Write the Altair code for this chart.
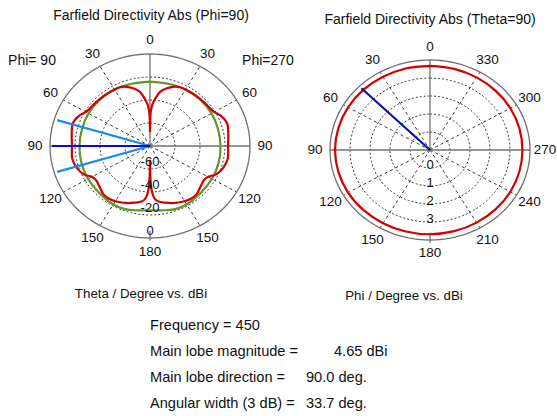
import altair as alt
import numpy as np
import pandas as pd

# ---------------- data ----------------
# Left plot: Phi=90 / Phi=270 cut, theta in degrees, value on the plot's radial dB scale
THETA_RED = [0, 0.5, 1, 2, 3, 5, 7, 10, 15, 20, 25, 30, 40, 50, 55, 60, 65, 72, 80, 90,
             100, 108, 115, 120, 125, 131, 138, 144, 151, 160, 166, 172, 175, 177, 178.5, 179.3, 180]
DB_RED = [-68.0, -57.6, -51.2, -47.2, -44.0, -40.0, -36.8, -32.0, -28.0, -25.2,
          -23.6, -23.2, -22.8, -22.4, -22.0, -20.8, -17.6, -15.2, -16.4, -17.6,
          -16.8, -18.4, -21.6, -26.4, -27.6, -26.4, -24.0, -23.6, -24.8, -27.2,
          -29.2, -31.2, -33.6, -37.6, -44.0, -52.0, -68.0]
THETA_GREEN = [0, 15, 30, 45, 60, 75, 90, 105, 120, 135, 150, 160, 170, 180]
DB_GREEN = [-24.0, -24.0, -23.2, -23.2, -23.2, -23.6, -23.6, -23.2, -22.8, -22.4, -21.2, -21.6, -23.2, -24.0]

# Right plot: Theta=90 cut, phi in degrees, dBi
PHI_RED = [0, 15, 30, 45, 60, 75, 90, 105, 120, 135, 150, 165, 180,
           195, 210, 225, 240, 255, 270, 285, 300, 315, 330, 345, 360]
DB_PHI = [3.68, 3.69, 3.70, 3.72, 3.73, 3.74, 3.75, 3.74, 3.73, 3.71, 3.70, 3.69, 3.68,
          3.67, 3.66, 3.65, 3.64, 3.63, 3.62, 3.63, 3.64, 3.65, 3.66, 3.67, 3.68]

# radial scales (value at centre, value at outer circle) and grid rings
LEFT_RANGE = (-80.0, 0.0)
LEFT_RINGS = [-60, -40, -20]
LEFT_RING_LABELS = [-60, -40, -20, 0]
RIGHT_RANGE = (-1.0, 4.0)
RIGHT_RINGS = [0, 1, 2, 3]
RIGHT_RING_LABELS = [0, 1, 2, 3]

# angular tick labels: (screen angle clockwise from top, text)
LEFT_ANGLE_POS = [0, 30, 60, 90, 120, 150, 180, 210, 240, 270, 300, 330]
LEFT_ANGLE_TXT = ["0", "30", "60", "90", "120", "150", "180", "150", "120", "90", "60", "30"]
RIGHT_ANGLE_POS = [0, 30, 60, 90, 120, 150, 180, 210, 240, 270, 300, 330]
RIGHT_ANGLE_TXT = ["0", "330", "300", "270", "240", "210", "180", "150", "120", "90", "60", "30"]

MAIN_DIR = 90.0
BEAM_WIDTH = 33.7
RIGHT_MARKER_PHI = 45.0

INFO_LABELS = ["Frequency = 450", "Main lobe magnitude =", "Main lobe direction =", "Angular width (3 dB) ="]
INFO_VALUES = ["", "4.65 dBi", "90.0 deg.", "33.7 deg."]

FONT = "Liberation Sans"
RED = "#d20000"
GREEN = "#64962a"
LBLUE = "#1e8ae6"
DBLUE = "#0808d0"
NAVY = "#0a10a8"
GRID = "#3a3a3a"
AXIS = "#707070"
TXT = "#111111"


def xy(t_deg, rn):
    t = np.radians(np.asarray(t_deg, float))
    rn = np.asarray(rn, float)
    return rn * np.sin(t), rn * np.cos(t)


def norm(v, rng):
    return (np.asarray(v, float) - rng[0]) / (rng[1] - rng[0])


def seg_layer(X, Y, t_list, r0, r1, **mk):
    u0, v0 = xy(t_list, np.full(len(t_list), r0))
    u1, v1 = xy(t_list, np.full(len(t_list), r1))
    return (alt.Chart(pd.DataFrame({"u0": u0, "w0": v0, "u": u1, "w": v1}))
            .mark_rule(**mk).encode(x=X("u0"), y=Y("w0"), x2="u", y2="w"))


def polar_panel(curves, rings, rng, ring_labels, ring_dy, ang_pos, ang_txt, rules, xdom, ydom, w, h, texts):
    xs = alt.Scale(domain=xdom, nice=False, zero=False)
    ys = alt.Scale(domain=ydom, nice=False, zero=False)
    X = lambda f: alt.X(f, type="quantitative", scale=xs, axis=None)
    Y = lambda f: alt.Y(f, type="quantitative", scale=ys, axis=None)
    layers = []

    # dashed rings
    tt = np.arange(0, 361, 3)
    rows = []
    for rv in rings:
        u, v = xy(tt, np.full(len(tt), norm(rv, rng)))
        for i in range(len(tt)):
            rows.append({"ring": str(rv), "i": i, "u": u[i], "w": v[i]})
    layers.append(alt.Chart(pd.DataFrame(rows)).mark_line(color=GRID, strokeWidth=1, strokeDash=[2, 2])
                  .encode(x=X("u"), y=Y("w"), detail="ring:N", order="i:Q"))
    # dashed spokes
    layers.append(seg_layer(X, Y, [30, 60, 120, 150, 210, 240, 300, 330], 0.0, 1.0,
                            color=GRID, strokeWidth=1, strokeDash=[3, 3]))
    # solid axes (upper and horizontal), short tick at the bottom
    layers.append(seg_layer(X, Y, [0, 90, 270], 0.0, 1.0, color=AXIS, strokeWidth=1.3))
    layers.append(seg_layer(X, Y, [180], 0.92, 1.03, color=AXIS, strokeWidth=1.3))
    # outer circle
    u, v = xy(tt, np.ones(len(tt)))
    layers.append(alt.Chart(pd.DataFrame({"i": range(len(tt)), "u": u, "w": v}))
                  .mark_line(color=AXIS, strokeWidth=1.3)
                  .encode(x=X("u"), y=Y("w"), order="i:Q"))
    # data curves
    for df, color in curves:
        layers.append(alt.Chart(df).mark_line(color=color, strokeWidth=2.2, interpolate="catmull-rom")
                      .encode(x=X("u"), y=Y("w"), order="i:Q"))
    # marker lines (main lobe / beam width)
    for t, rn, color in rules:
        layers.append(seg_layer(X, Y, [t], 0.0, rn, color=color, strokeWidth=2.2))
    # radial labels
    u, v = xy(np.full(len(ring_labels), 180.0), norm(ring_labels, rng))
    layers.append(alt.Chart(pd.DataFrame({"u": u, "w": v, "lab": [str(x) for x in ring_labels]}))
                  .mark_text(font=FONT, fontSize=13, color=TXT, dy=ring_dy)
                  .encode(x=X("u"), y=Y("w"), text="lab:N"))
    # angle labels
    u, v = xy(ang_pos, np.full(len(ang_pos), 1.15))
    layers.append(alt.Chart(pd.DataFrame({"u": u, "w": v, "lab": ang_txt}))
                  .mark_text(font=FONT, fontSize=13.5, color=TXT)
                  .encode(x=X("u"), y=Y("w"), text="lab:N"))
    # free text
    for txt, px, py, size, align in texts:
        layers.append(alt.Chart(pd.DataFrame({"t": [txt]}))
                      .mark_text(font=FONT, fontSize=size, color=TXT, align=align, baseline="middle")
                      .encode(x=alt.value(px), y=alt.value(py), text="t:N"))
    return alt.layer(*layers).properties(width=w, height=h)


# ---------- left panel ----------
rows = []
k = 0
for th, db in zip(THETA_RED, DB_RED):          # Phi=90 side (left)
    u, v = xy([360 - th], [norm(db, LEFT_RANGE)])
    rows.append({"i": k, "u": u[0], "w": v[0]}); k += 1
for th, db in zip(THETA_RED[::-1], DB_RED[::-1]):   # Phi=270 side (right)
    u, v = xy([th], [norm(db, LEFT_RANGE)])
    rows.append({"i": k, "u": u[0], "w": v[0]}); k += 1
left_red = pd.DataFrame(rows)

rows = []
k = 0
for th, db in zip(THETA_GREEN, DB_GREEN):
    u, v = xy([360 - th], [norm(db, LEFT_RANGE)])
    rows.append({"i": k, "u": u[0], "w": v[0]}); k += 1
for th, db in zip(THETA_GREEN[::-1], DB_GREEN[::-1]):
    u, v = xy([th], [norm(db, LEFT_RANGE)])
    rows.append({"i": k, "u": u[0], "w": v[0]}); k += 1
left_green = pd.DataFrame(rows)

left_rules = [(360 - (MAIN_DIR - BEAM_WIDTH / 2), 0.97, LBLUE),
              (360 - (MAIN_DIR + BEAM_WIDTH / 2), 0.97, LBLUE),
              (360 - MAIN_DIR, 0.98, DBLUE)]

left_texts = [("Farfield Directivity Abs (Phi=90)", 151, 16, 14, "center"),
              ("Phi= 90", 32, 61, 14, "center"),
              ("Phi=270", 268, 61, 14, "center"),
              ("Theta / Degree vs. dBi", 141, 294, 13.3, "center")]
VALUE_X = [0, 334, 306, 306]
for i, (lab, val) in enumerate(zip(INFO_LABELS, INFO_VALUES)):
    yy = 326 + 26 * i
    left_texts.append((lab, 150, yy, 14.6, "left"))
    if val:
        left_texts.append((val, VALUE_X[i], yy, 14.6, "left"))

left = polar_panel([(left_green, GREEN), (left_red, RED)], LEFT_RINGS, LEFT_RANGE, LEFT_RING_LABELS, -7,
                   LEFT_ANGLE_POS, LEFT_ANGLE_TXT, left_rules,
                   [-1.50, 1.29], [-2.935, 1.587], 279, 416, left_texts)

# ---------- right panel ----------
u, v = xy([360 - p for p in PHI_RED], norm(DB_PHI, RIGHT_RANGE))
right_red = pd.DataFrame({"i": range(len(PHI_RED)), "u": u, "w": v})
right_rules = [(360 - RIGHT_MARKER_PHI, 0.97, NAVY)]
right_texts = [("Farfield Directivity Abs (Theta=90)", 151, 20, 14, "center"),
               ("Phi / Degree vs. dBi", 125, 296, 13.3, "center")]
right = polar_panel([(right_red, RED)], RIGHT_RINGS, RIGHT_RANGE, RIGHT_RING_LABELS, -3,
                    RIGHT_ANGLE_POS, RIGHT_ANGLE_TXT, right_rules,
                    [-1.51, 1.27], [-2.956, 1.667], 278, 416, right_texts)

chart = alt.hconcat(left, right, spacing=0, bounds="flush").properties(
    padding=0, background="white"
).configure_view(stroke=None)

chart.save("out.html", embed_options={"renderer": "svg", "actions": False})
